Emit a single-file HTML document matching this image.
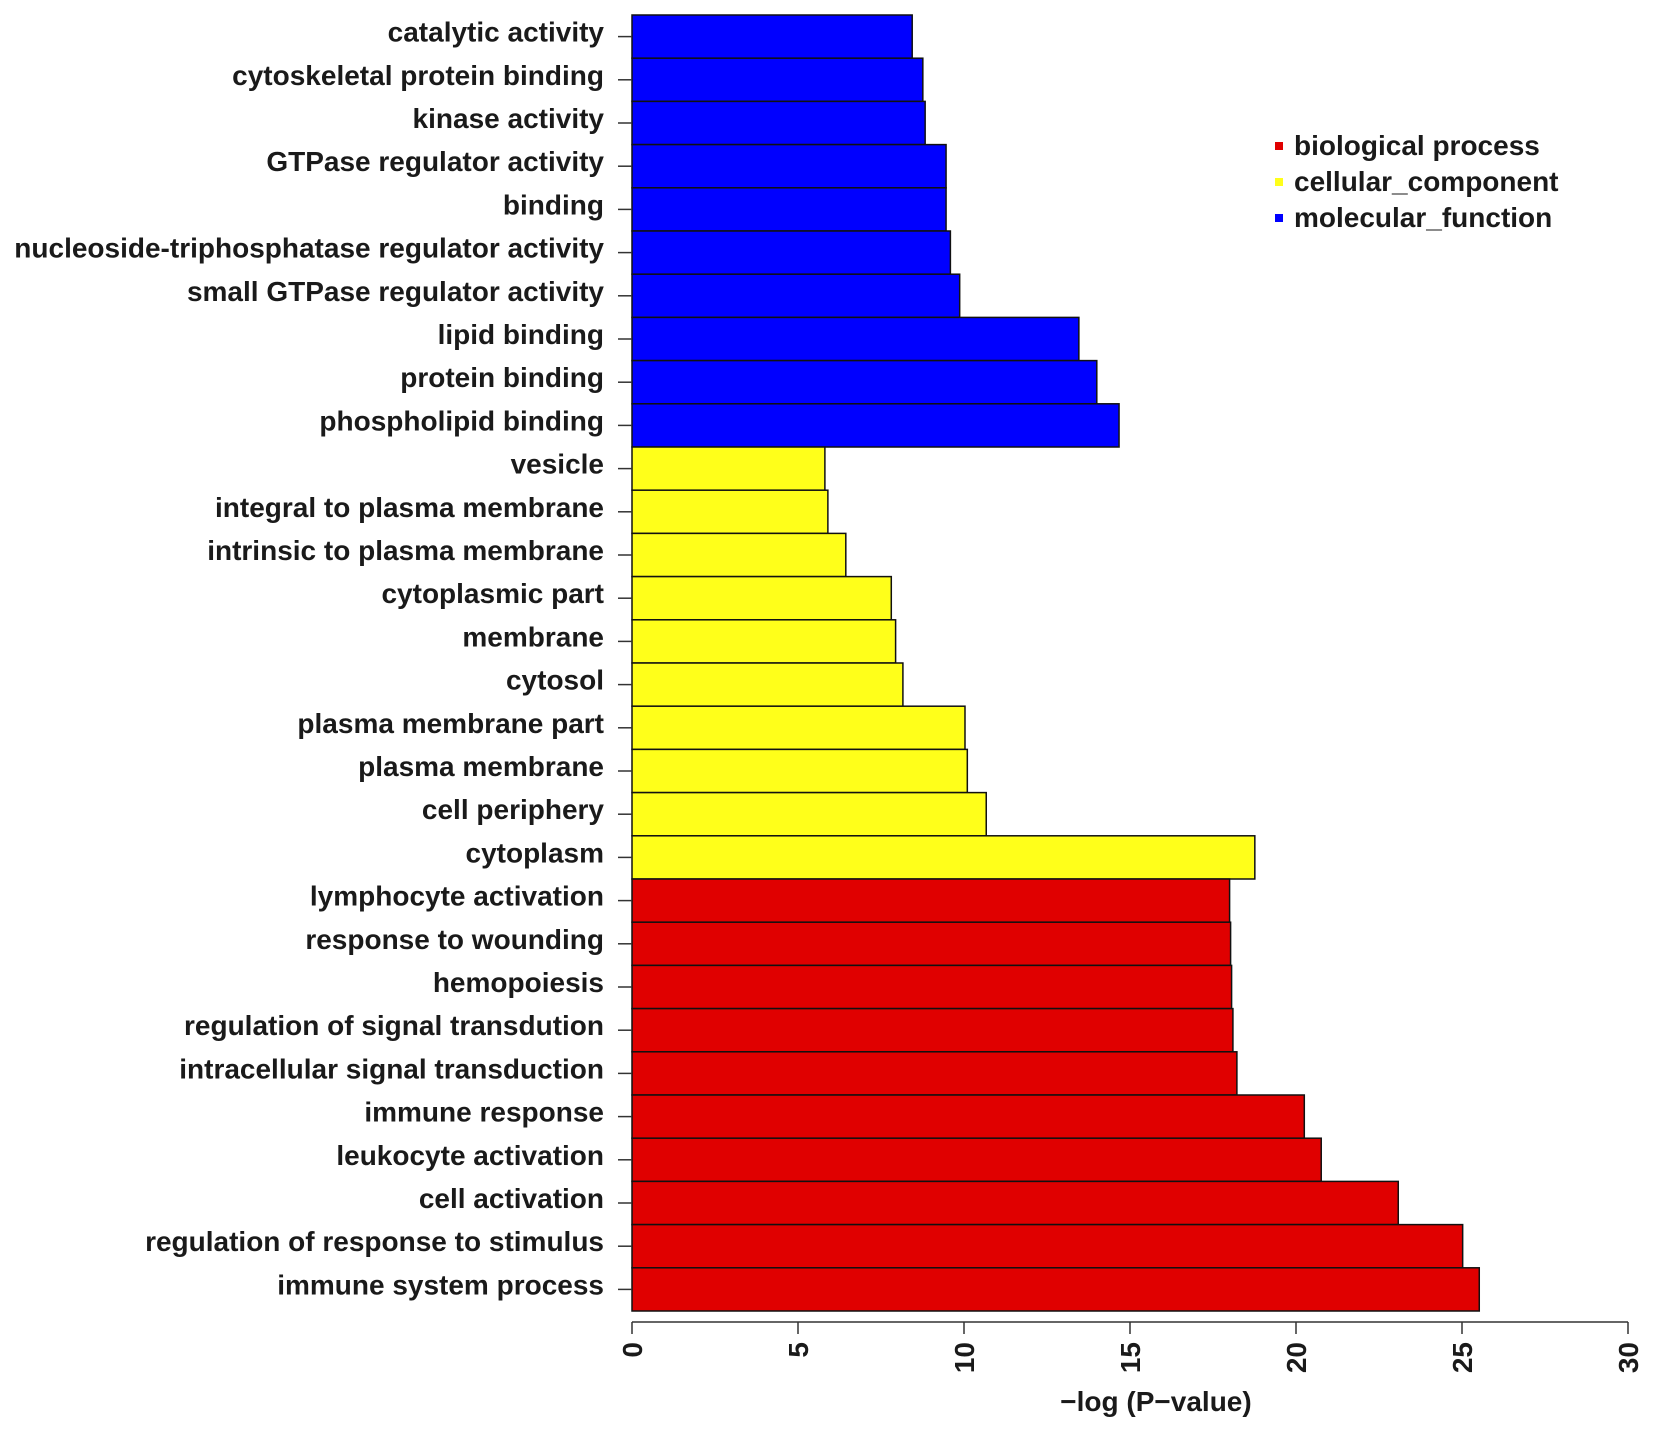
<!DOCTYPE html>
<html><head><meta charset="utf-8"><style>body{margin:0;background:#fff}svg{display:block}text{font-family:"Liberation Sans",Arial,sans-serif;font-weight:bold;fill:#1a1a1a}</style></head>
<body>
<svg id="chart" width="1654" height="1430" viewBox="0 0 1654 1430" xmlns="http://www.w3.org/2000/svg"></svg>
<script>
const categories=["catalytic activity","cytoskeletal protein binding","kinase activity","GTPase regulator activity","binding","nucleoside-triphosphatase regulator activity","small GTPase regulator activity","lipid binding","protein binding","phospholipid binding","vesicle","integral to plasma membrane","intrinsic to plasma membrane","cytoplasmic part","membrane","cytosol","plasma membrane part","plasma membrane","cell periphery","cytoplasm","lymphocyte activation","response to wounding","hemopoiesis","regulation of signal transdution","intracellular signal transduction","immune response","leukocyte activation","cell activation","regulation of response to stimulus","immune system process"];
const values=[8.44,8.76,8.83,9.46,9.46,9.59,9.87,13.46,14.0,14.67,5.81,5.9,6.44,7.81,7.94,8.16,10.03,10.1,10.67,18.76,18.0,18.03,18.06,18.1,18.22,20.25,20.76,23.08,25.02,25.52];
const groups=["mf","mf","mf","mf","mf","mf","mf","mf","mf","mf","cc","cc","cc","cc","cc","cc","cc","cc","cc","cc","bp","bp","bp","bp","bp","bp","bp","bp","bp","bp"];
const xTicks=[0,5,10,15,20,25,30];
const legendLabels=["biological process","cellular_component","molecular_function"];
const legendKeys=["bp","cc","mf"];
const colors={bp:"#e00000",cc:"#ffff1a",mf:"#0000ff"};
const svg=document.getElementById('chart');const NS="http://www.w3.org/2000/svg";
const x0=632,x1=1628,xmax=30,yTop=15,yBot=1311;
const xs=v=>x0+(x1-x0)*v/xmax;
const bh=(yBot-yTop)/categories.length;
const ys=i=>yTop+i*bh;
function mk(t,a,p){const e=document.createElementNS(NS,t);for(const k in a)e.setAttribute(k,a[k]);(p||svg).appendChild(e);return e;}
categories.forEach((c,i)=>{
 const r=mk('rect',{x:x0,y:ys(i),width:xs(values[i])-x0,height:bh,fill:colors[groups[i]],stroke:"#111","stroke-width":1.5});
 
 
 const tk=mk('line',{x1:x0-14,x2:x0,y1:ys(i)+bh/2,y2:ys(i)+bh/2,stroke:"#333","stroke-width":1.5});
 
 
 const t=mk('text',{x:604,y:ys(i)+bh/2+5,"text-anchor":"end","font-size":28});
 t.textContent=c;
 
 
});
const ax=mk('line',{x1:x0,x2:x1,y1:1322,y2:1322,stroke:"#333","stroke-width":1.5});


xTicks.forEach(v=>{
 const l=mk('line',{x1:xs(v),x2:xs(v),y1:1322,y2:1334,stroke:"#333","stroke-width":1.5});
 
 
 const t=mk('text',{x:0,y:0,"text-anchor":"end","font-size":28,transform:`translate(${xs(v)+10},1342) rotate(-90)`});
 t.textContent=v;
 
 
});
const xt=mk('text',{x:1156,y:1411,"text-anchor":"middle","font-size":28});
xt.textContent="\u2212log (P\u2212value)";


legendLabels.forEach((l,i)=>{
 const y=146+i*36;
 const s=mk('rect',{x:1275,y:y-4,width:8,height:8,fill:colors[legendKeys[i]]});
 
 
 const t=mk('text',{x:1294,y:y+9,"font-size":28});
 t.textContent=l;
 
 
});
</script>
</body></html>
